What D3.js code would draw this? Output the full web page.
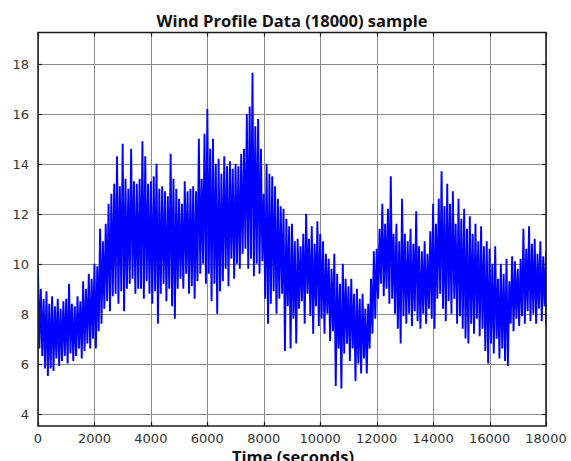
<!DOCTYPE html>
<html>
<head>
<meta charset="utf-8">
<script src="https://cdn.jsdelivr.net/npm/d3@7"></script>
<style>
  html, body { margin: 0; padding: 0; background: #fff; }
  svg { display: block; }
</style>
</head>
<body>
<div class="chart"></div>
<script>
// sampling step of the envelope readings (seconds)
const stepSeconds = 100;

// upper spike tips per 100 s step (0 .. 18000 s)
const windHigh = [
  9.8, 9.0, 8.6, 8.9, 8.4, 8.7, 8.3, 8.6, 8.2, 8.5,
  8.6, 9.2, 8.4, 8.3, 8.7, 8.5, 9.3, 9.0, 9.6, 9.4,
  10.0, 9.9, 11.4, 10.9, 11.6, 12.4, 12.8, 13.2, 14.3, 13.1,
  14.8, 13.4, 13.0, 14.6, 13.3, 13.2, 13.4, 14.9, 14.3, 13.2,
  13.3, 13.5, 14.0, 13.0, 13.1, 12.9, 12.7, 14.4, 13.4, 13.0,
  12.6, 12.4, 13.3, 12.9, 13.0, 13.1, 12.9, 15.0, 13.4, 15.2,
  16.2, 14.6, 15.0, 14.0, 14.2, 13.6, 14.3, 13.9, 14.1, 13.8,
  14.0, 13.9, 14.4, 14.6, 16.0, 16.3, 17.65, 15.5, 15.8, 14.6,
  12.8, 14.0, 13.6, 13.5, 13.1, 12.6, 12.3, 12.2, 11.8, 11.5,
  11.6, 10.9, 11.0, 10.7, 11.2, 12.0, 11.0, 11.5, 10.8, 11.7,
  11.2, 10.9, 10.4, 10.2, 9.8, 10.4, 9.6, 9.2, 10.0, 9.4,
  9.1, 9.4, 8.8, 9.0, 8.6, 8.8, 8.2, 8.4, 9.4, 10.5,
  10.6, 11.4, 12.4, 11.6, 12.2, 13.5, 11.2, 11.6, 10.9, 12.6,
  11.2, 10.9, 11.4, 10.8, 12.1, 10.7, 10.5, 10.9, 10.4, 11.3,
  12.4, 11.6, 12.6, 13.7, 12.3, 13.2, 12.4, 12.9, 11.6, 12.6,
  11.8, 12.2, 11.4, 11.9, 11.2, 11.6, 10.9, 11.5, 10.7, 10.9,
  10.6, 10.0, 10.7, 9.4, 10.0, 9.6, 10.2, 9.3, 10.3, 10.1,
  9.8, 10.2, 11.4, 10.6, 11.5, 10.8, 11.0, 10.4, 10.9, 10.3, 10.5
];

// lower spike tips per 100 s step
const windLow = [
  6.6, 6.3, 5.8, 5.5, 5.8, 5.7, 6.2, 5.9, 6.1, 6.3,
  6.0, 6.4, 6.1, 6.3, 6.6, 6.2, 6.5, 6.8, 6.6, 7.0,
  6.6, 7.3, 7.6, 8.2, 8.5, 8.1, 8.7, 8.8, 8.4, 8.9,
  8.1, 9.0, 9.2, 9.4, 8.8, 9.0, 9.0, 8.6, 9.3, 8.8,
  8.4, 8.9, 7.6, 8.8, 9.2, 8.5, 9.0, 8.3, 7.8, 9.0,
  9.4, 9.0, 9.6, 8.8, 9.1, 8.6, 9.3, 9.6, 10.0, 9.2,
  9.6, 8.5, 9.2, 8.0, 8.9, 9.3, 9.8, 9.1, 10.2, 9.4,
  10.0, 9.8, 10.4, 10.6, 9.8, 10.2, 9.5, 10.0, 9.6, 10.1,
  8.6, 7.6, 8.4, 8.9, 8.0, 8.6, 8.8, 6.5, 8.3, 6.6,
  7.8, 6.8, 8.2, 8.5, 7.6, 8.8, 7.9, 7.2, 8.3, 7.5,
  7.8, 7.2, 8.0, 6.9, 7.3, 5.1, 6.6, 5.0, 6.4, 6.8,
  6.1, 6.6, 5.3, 6.0, 5.6, 6.2, 5.6, 6.6, 7.2, 7.8,
  8.6, 9.2, 8.7, 9.0, 8.4, 8.6, 8.0, 7.4, 6.8, 7.9,
  7.6, 8.0, 7.5, 8.1, 7.7, 7.4, 8.0, 7.6, 8.2, 7.8,
  7.4, 8.6, 8.8, 8.2, 7.7, 8.5, 8.0, 8.6, 7.6, 7.9,
  7.4, 7.0, 6.8, 7.6, 7.2, 7.8, 7.1, 7.4, 6.5, 6.0,
  6.8, 6.4, 7.0, 6.2, 6.6, 6.1, 5.9, 7.6, 7.3, 7.8,
  7.5, 7.9, 7.6, 8.1, 7.7, 8.0, 7.6, 8.2, 7.7, 8.3, 7.5
];

const xTicks = [0, 2000, 4000, 6000, 8000, 10000, 12000, 14000, 16000, 18000];
const yTicks = [4, 6, 8, 10, 12, 14, 16, 18];

const titleText = "Wind Profile Data (18000) sample";
const xLabelText = "Time (seconds)";

const width = 571,
  height = 461;
const plot = { left: 38, right: 546, top: 32.5, bottom: 426 };

const svg = d3
  .select(".chart")
  .append("svg")
  .attr("width", width)
  .attr("height", height);

const x = d3.scaleLinear().domain([0, 18000]).range([plot.left, plot.right]);
const y = d3.scaleLinear().domain([3.5, 19.26]).range([plot.bottom, plot.top]);

// grid lines
const grid = svg.append("g").attr("stroke", "#8c8c8c").attr("stroke-width", 1);
grid
  .selectAll("line.gx")
  .data(xTicks)
  .join("line")
  .attr("x1", (d) => Math.round(x(d)) + 0.5)
  .attr("x2", (d) => Math.round(x(d)) + 0.5)
  .attr("y1", plot.top)
  .attr("y2", plot.bottom);
grid
  .selectAll("line.gy")
  .data(yTicks)
  .join("line")
  .attr("y1", (d) => Math.round(y(d)) + 0.5)
  .attr("y2", (d) => Math.round(y(d)) + 0.5)
  .attr("x1", plot.left)
  .attr("x2", plot.right);

// the signal: zigzag through high/low tips of each step
const points = [];
windHigh.forEach((v, i) => {
  const t = i * stepSeconds;
  points.push([t, v]);
  points.push([Math.min(t + stepSeconds / 2, 18000), windLow[i]]);
});

svg
  .append("clipPath")
  .attr("id", "plot-clip")
  .append("rect")
  .attr("x", plot.left)
  .attr("y", plot.top)
  .attr("width", plot.right - plot.left)
  .attr("height", plot.bottom - plot.top);

svg
  .append("path")
  .datum(points)
  .attr("clip-path", "url(#plot-clip)")
  .attr("fill", "none")
  .attr("stroke", "#0000ff")
  .attr("stroke-width", 1.9)
  .attr("stroke-linejoin", "bevel")
  .attr("d", d3.line().x((d) => x(d[0])).y((d) => y(d[1])));

// frame
svg
  .append("rect")
  .attr("x", plot.left)
  .attr("y", plot.top)
  .attr("width", plot.right - plot.left)
  .attr("height", plot.bottom - plot.top)
  .attr("fill", "none")
  .attr("stroke", "#1a1a1a")
  .attr("stroke-width", 1.5);

// small inner ticks on all four sides
const tickLen = 4;
const tk = svg.append("g").attr("stroke", "#222").attr("stroke-width", 1.2);
xTicks.forEach((d) => {
  const px = Math.round(x(d)) + 0.5;
  tk.append("line").attr("x1", px).attr("x2", px).attr("y1", plot.bottom).attr("y2", plot.bottom - tickLen);
  tk.append("line").attr("x1", px).attr("x2", px).attr("y1", plot.top).attr("y2", plot.top + tickLen);
});
yTicks.forEach((d) => {
  const py = Math.round(y(d)) + 0.5;
  tk.append("line").attr("x1", plot.left).attr("x2", plot.left + tickLen).attr("y1", py).attr("y2", py);
  tk.append("line").attr("x1", plot.right).attr("x2", plot.right - tickLen).attr("y1", py).attr("y2", py);
});

// tick labels
svg
  .append("g")
  .attr("font-family", "DejaVu Sans, Verdana, sans-serif")
  .attr("font-size", "13px")
  .attr("fill", "#333")
  .attr("text-anchor", "end")
  .selectAll("text")
  .data(yTicks)
  .join("text")
  .attr("x", 29)
  .attr("y", (d) => y(d) + 5)
  .text((d) => d);

svg
  .append("g")
  .attr("font-family", "DejaVu Sans, Verdana, sans-serif")
  .attr("font-size", "13px")
  .attr("fill", "#333")
  .attr("text-anchor", "middle")
  .selectAll("text")
  .data(xTicks)
  .join("text")
  .attr("x", (d) => x(d))
  .attr("y", 443)
  .text((d) => d);

// title and axis label
svg
  .append("text")
  .attr("x", 292)
  .attr("y", 27)
  .attr("text-anchor", "middle")
  .attr("font-family", "Open Sans, sans-serif")
  .attr("font-weight", "bold")
  .attr("font-size", "16.5px")
  .attr("fill", "#111")
  .text(titleText);

svg
  .append("text")
  .attr("x", 293)
  .attr("y", 463)
  .attr("text-anchor", "middle")
  .attr("font-family", "Open Sans, sans-serif")
  .attr("font-weight", "bold")
  .attr("font-size", "16.5px")
  .attr("fill", "#111")
  .text(xLabelText);
</script>
</body>
</html>
